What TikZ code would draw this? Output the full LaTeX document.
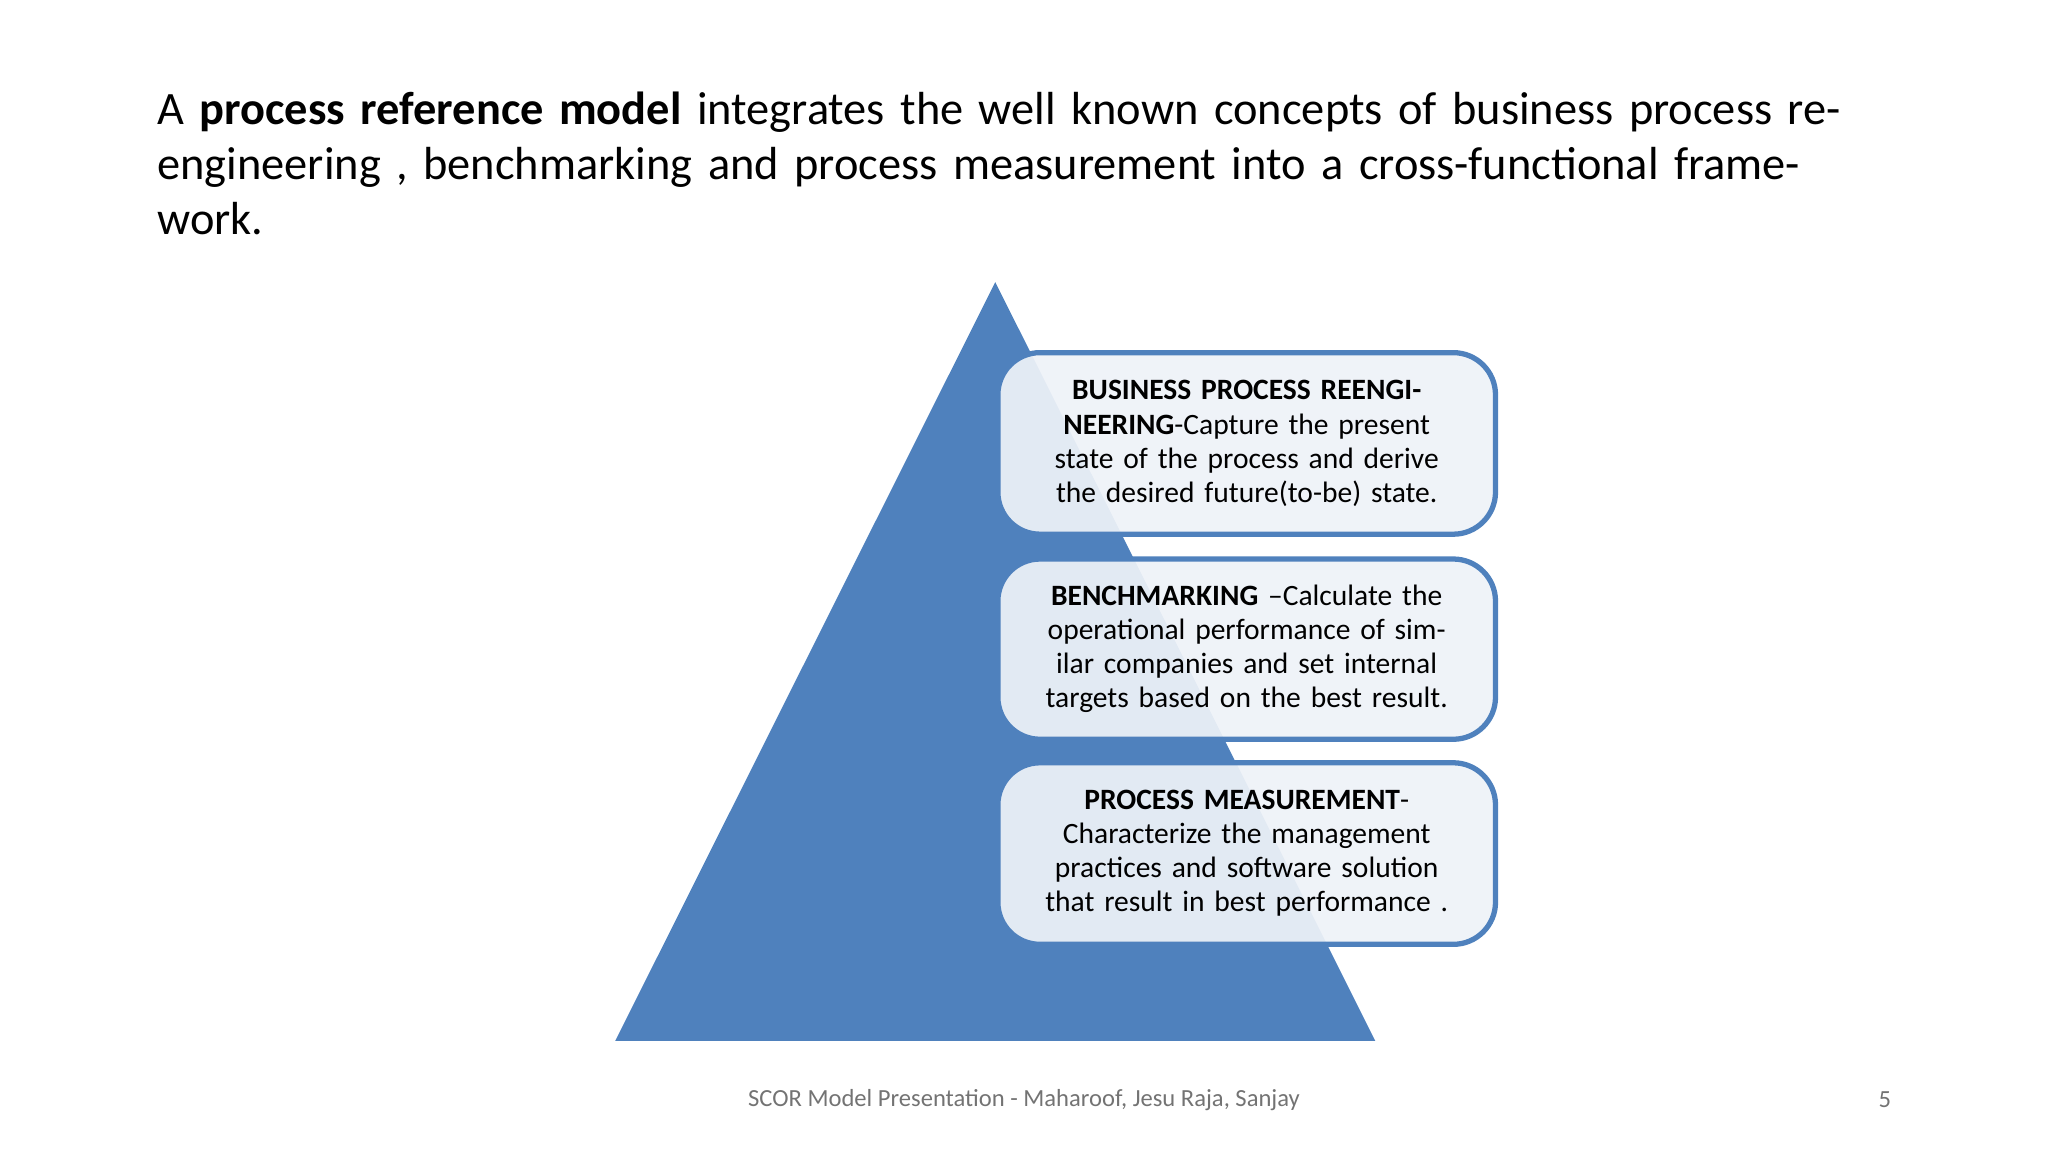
\documentclass[tikz,border=0pt]{standalone}
\usepackage{fontspec}
\setmainfont{Carlito}
\definecolor{pyr}{HTML}{4F81BD}
\definecolor{boxfill}{HTML}{EEF2F8}
\begin{document}
\begin{tikzpicture}[x=0.013061cm,y=-0.013061cm,
  infobox/.style={draw=pyr,line width=1.5pt,rounded corners=12pt,fill=boxfill,fill opacity=0.93,text opacity=1,
    minimum width=381*0.013061cm,text width=360*0.013061cm,align=center,font=\fontsize{8.4}{9.7}\selectfont}]
\useasboundingbox (0,0) rectangle (1568,882);
\node[anchor=north west,text width=1320*0.013061cm,align=left,inner sep=0pt,font=\fontsize{13.2}{15.6}\selectfont] (title) at (120,70)
 {A \textbf{process reference model} integrates the well known concepts of business process re-engineering , benchmarking and process measurement into a cross-functional framework.};
\fill[pyr] (762,216) coordinate (apex) -- (1053,797) -- (471,797) -- cycle;
\node[infobox,minimum height=139*0.013061cm] (b1) at (954.5,339.5) {\textbf{BUSINESS PROCESS REENGINEERING}-Capture the present state of the process and derive the desired future(to-be) state.};
\node[infobox,minimum height=138*0.013061cm] (b2) at (954.5,497) {\textbf{BENCHMARKING} --Calculate the operational performance of similar companies and set internal targets based on the best result.};
\node[infobox,minimum height=139*0.013061cm] (b3) at (954.5,653.5) {\textbf{PROCESS MEASUREMENT}-\\ Characterize the management practices and software solution that result in best performance .};
\node[font=\fontsize{7}{8}\selectfont,text=gray!90!black] (foot) at (784,842) {SCOR Model Presentation - Maharoof, Jesu Raja, Sanjay};
\node[font=\fontsize{7}{8}\selectfont,text=gray!90!black] (num) at (1443,842) {5};
\end{tikzpicture}
\end{document}
